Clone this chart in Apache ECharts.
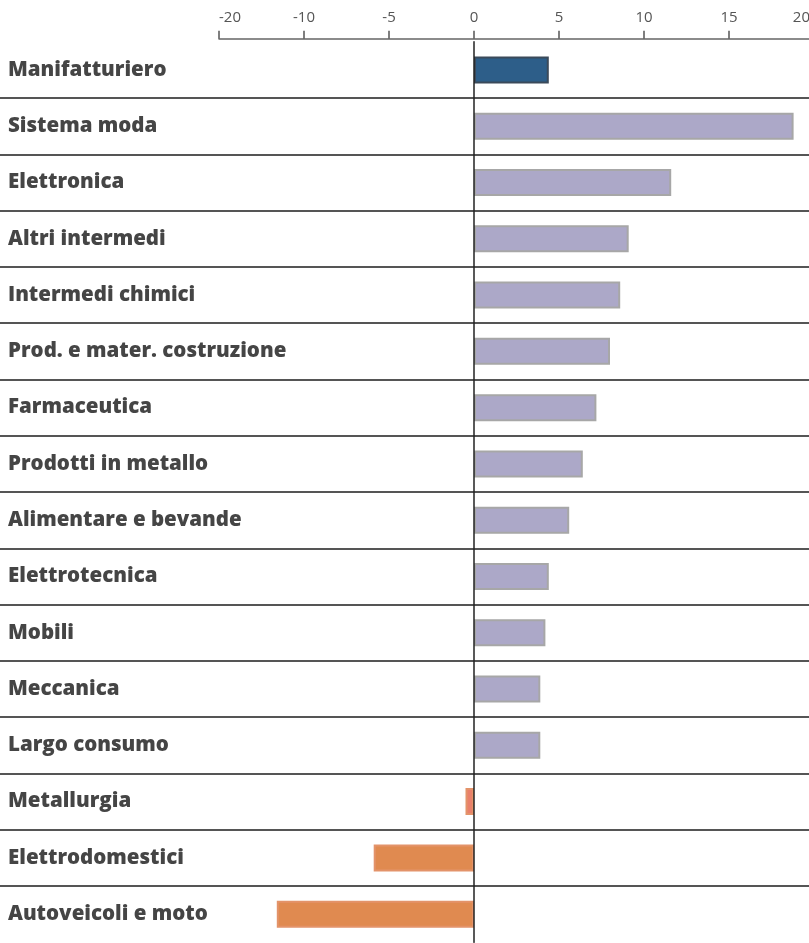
<!DOCTYPE html>
<html>
<head>
<meta charset="utf-8">
<script src="https://cdn.jsdelivr.net/npm/echarts@6/dist/echarts.min.js"></script>
<style>
  html, body { margin: 0; padding: 0; background: #ffffff; }
  #chart { width: 809px; height: 943px; }
</style>
</head>
<body>
<div id="chart"></div>
<script>
// ---- data ----
const categories = [
  'Manifatturiero',
  'Sistema moda',
  'Elettronica',
  'Altri intermedi',
  'Intermedi chimici',
  'Prod. e mater. costruzione',
  'Farmaceutica',
  'Prodotti in metallo',
  'Alimentare e bevande',
  'Elettrotecnica',
  'Mobili',
  'Meccanica',
  'Largo consumo',
  'Metallurgia',
  'Elettrodomestici',
  'Autoveicoli e moto'
];
const values = [4.4, 18.8, 11.6, 9.1, 8.6, 8.0, 7.2, 6.4, 5.6, 4.4, 4.2, 3.9, 3.9, -0.5, -5.9, -11.6];
const tickLabels = ['-20', '-10', '-5', '0', '5', '10', '15', '20'];
const axisMin = -15;
const axisMax = 20;
const axisStep = 5;

// ---- chart ----
const chart = echarts.init(document.getElementById('chart'), null, { renderer: 'canvas' });

const GRID_TOP = 41.8;
const GRID_H = 900.5;

function barColor(params) {
  if (params.dataIndex === 0) return '#2d5e89';
  if (params.value < 0) return params.value > -1 ? '#e9806a' : '#e08a50';
  return '#aca8c8';
}
function barBorder(idx, v) {
  if (idx === 0) return '#3b4a5a';
  if (v < 0) return '#e3936a';
  return '#a7a7a7';
}

const option = {
  animation: false,
  backgroundColor: '#ffffff',
  grid: [
    { left: 0, right: 0, top: GRID_TOP, height: GRID_H, outerBoundsMode: 'none', containLabel: false },
    { left: 219, width: 595, top: GRID_TOP, height: GRID_H, outerBoundsMode: 'none', containLabel: false }
  ],
  xAxis: [
    { gridIndex: 0, type: 'value', show: false, min: 0, max: 1 },
    {
      gridIndex: 1,
      type: 'value',
      position: 'top',
      offset: 3,
      min: axisMin,
      max: axisMax,
      interval: axisStep,
      splitLine: { show: false },
      axisLine: { show: true, onZero: false, lineStyle: { color: '#666', width: 1.5 } },
      axisTick: { show: true, length: 8, lineStyle: { color: '#555', width: 1.5 } },
      axisLabel: {
        margin: 14,
        color: '#555',
        fontFamily: 'Open Sans',
        fontSize: 15,
        alignMinLabel: 'left',
        alignMaxLabel: 'right',
        formatter: function (v) {
          const i = Math.round((v - axisMin) / axisStep);
          const t = tickLabels[i];
          if (v === axisMax) return '{m|' + t + '}';
          return t;
        },
        rich: {
          m: { color: '#555', fontFamily: 'Open Sans', fontSize: 15, padding: [0, 4, 0, 0] }
        }
      }
    }
  ],
  yAxis: [
    {
      gridIndex: 0,
      type: 'category',
      inverse: true,
      data: categories,
      axisLine: { show: false },
      axisTick: { show: false },
      splitLine: {
        show: true,
        showMinLine: false,
        showMaxLine: false,
        lineStyle: { color: '#555', width: 2 }
      },
      axisLabel: {
        inside: true,
        margin: 8,
        color: '#454545',
        fontFamily: 'Open Sans',
        fontWeight: 800,
        fontSize: 20.5
      }
    },
    {
      gridIndex: 1,
      type: 'category',
      inverse: true,
      data: categories,
      axisLine: { show: true, onZero: true, lineStyle: { color: '#222', width: 1.5 } },
      axisTick: { show: false },
      axisLabel: { show: false },
      splitLine: { show: false },
      z: 5
    }
  ],
  series: [
    {
      type: 'bar',
      xAxisIndex: 1,
      yAxisIndex: 1,
      barWidth: 27,
      data: values.map(function (v, i) {
        return {
          value: v,
          itemStyle: { borderColor: barBorder(i, v), borderWidth: 2 }
        };
      }),
      itemStyle: { color: barColor },
      z: 2
    }
  ]
};

chart.setOption(option);
</script>
</body>
</html>
